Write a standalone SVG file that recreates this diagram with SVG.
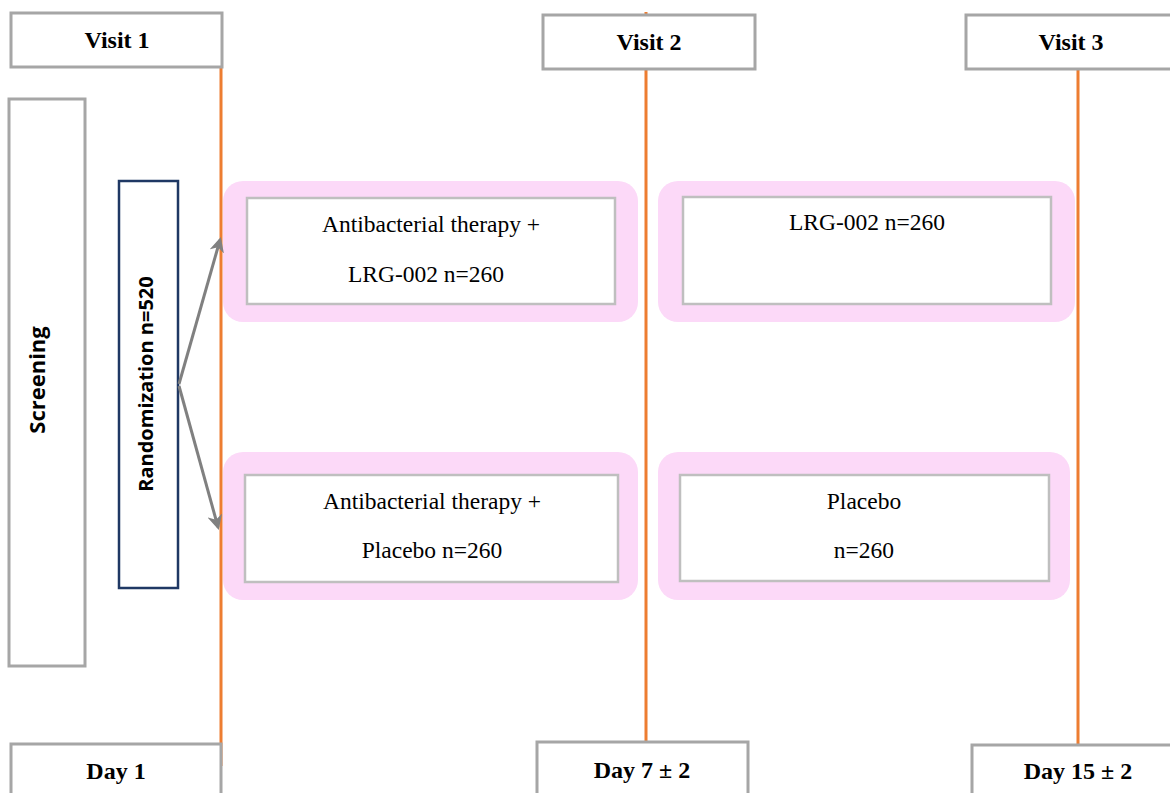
<svg xmlns="http://www.w3.org/2000/svg" width="1170" height="793" viewBox="0 0 1170 793">
  <style>
    .box { fill: #ffffff; stroke: #a6a6a6; stroke-width: 3; }
    .inner { fill: #ffffff; stroke: #bfbfbf; stroke-width: 2.5; }
    .halo { fill: #fcd9f8; }
    .timeline { stroke: #ed7d31; stroke-width: 3; fill: none; }
    .hdr { font-family: "Liberation Serif", "Times New Roman", serif; font-weight: bold; font-size: 24px; fill: #000; text-anchor: middle; }
    .body { font-family: "Liberation Serif", "Times New Roman", serif; font-size: 23.5px; fill: #000; text-anchor: middle; }
    .side { font-family: "Open Sans", "Liberation Sans", sans-serif; font-weight: bold; fill: #000; text-anchor: middle; }
    .arrow { stroke: #808080; stroke-width: 3; fill: none; marker-end: url(#head); }
  </style>
  <defs>
    <marker id="head" viewBox="0 0 10 10" refX="8" refY="5" markerWidth="5" markerHeight="5" orient="auto" markerUnits="strokeWidth">
      <path d="M0,0 L10,5 L0,10 L3,5 Z" fill="#808080"/>
    </marker>
  </defs>
  <rect width="1170" height="793" fill="#ffffff"/>

  <!-- treatment arm backgrounds -->
  <g id="arm-backgrounds">
    <rect class="halo" x="223" y="181" width="415" height="141" rx="20"/>
    <rect class="halo" x="658" y="181" width="417" height="141" rx="20"/>
    <rect class="halo" x="223" y="452" width="415" height="148" rx="20"/>
    <rect class="halo" x="658" y="452" width="412" height="148" rx="20"/>
  </g>

  <!-- visit timelines -->
  <g id="timelines">
    <line class="timeline" x1="221" y1="67" x2="221" y2="766"/>
    <line class="timeline" x1="646" y1="12" x2="646" y2="742"/>
    <line class="timeline" x1="1078" y1="69" x2="1078" y2="745"/>
  </g>

  <g id="visit1"><rect class="box" x="11" y="13" width="211" height="54"/><text class="hdr" x="117" y="48">Visit 1</text></g>
  <g id="visit2"><rect class="box" x="543" y="15" width="212" height="54"/><text class="hdr" x="649" y="50">Visit 2</text></g>
  <g id="visit3"><rect class="box" x="966" y="15" width="212" height="54"/><text class="hdr" x="1071" y="50">Visit 3</text></g>

  <g id="day1"><rect class="box" x="11" y="744" width="210" height="60"/><text class="hdr" x="116" y="779">Day 1</text></g>
  <g id="day7"><rect class="box" x="537" y="742" width="211" height="60"/><text class="hdr" x="642" y="778">Day 7 ± 2</text></g>
  <g id="day15"><rect class="box" x="972" y="745" width="210" height="60"/><text class="hdr" x="1078" y="779">Day 15 ± 2</text></g>

  <g id="screening">
    <rect class="box" x="9" y="99" width="76" height="567"/>
    <text class="side" font-size="22" transform="translate(45,380) rotate(-90)">Screening</text>
  </g>

  <g id="randomization">
    <rect x="119" y="181" width="59" height="407" fill="#ffffff" stroke="#1f3864" stroke-width="2.5"/>
    <text class="side" font-size="20" transform="translate(153,384) rotate(-90)">Randomization n=520</text>
  </g>

  <g id="arm-a-day1">
    <rect class="inner" x="247" y="198" width="368" height="106"/>
    <text class="body" x="431" y="232">Antibacterial therapy +</text>
    <text class="body" x="426" y="282">LRG-002 n=260</text>
  </g>
  <g id="arm-a-day7">
    <rect class="inner" x="683" y="197" width="368" height="107"/>
    <text class="body" x="867" y="230">LRG-002 n=260</text>
  </g>
  <g id="arm-b-day1">
    <rect class="inner" x="245" y="475" width="373" height="107"/>
    <text class="body" x="432" y="509">Antibacterial therapy +</text>
    <text class="body" x="432" y="558">Placebo n=260</text>
  </g>
  <g id="arm-b-day7">
    <rect class="inner" x="680" y="475" width="369" height="106"/>
    <text class="body" x="864" y="509">Placebo</text>
    <text class="body" x="864" y="558">n=260</text>
  </g>

  <!-- randomization branches -->
  <g id="connectors">
    <line class="arrow" x1="179" y1="384" x2="220" y2="240"/>
    <line class="arrow" x1="179" y1="386" x2="218" y2="527"/>
  </g>
</svg>
